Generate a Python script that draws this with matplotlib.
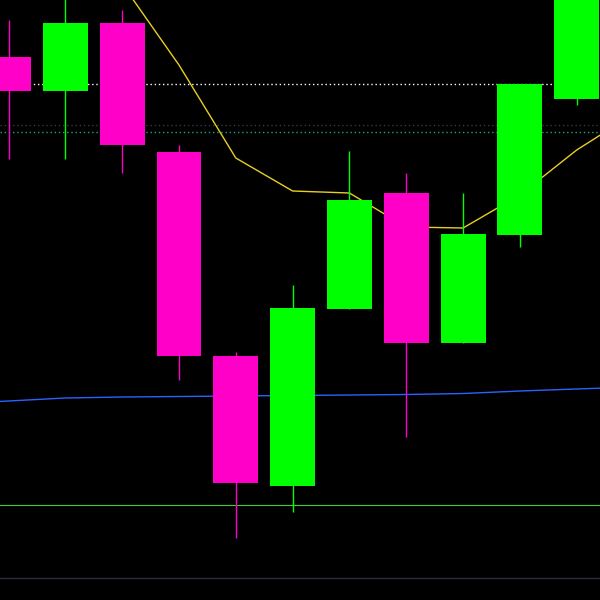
import matplotlib
matplotlib.use("Agg")
import matplotlib.pyplot as plt
import numpy as np

# candle data (price units)
opens = [543, 509, 577, 448, 244, 114, 291, 407, 257, 365, 501]
highs = [580, 605, 590, 455, 248, 315, 449, 427, 407, 516, 640]
lows = [441, 441, 427, 220, 62, 88, 291, 163, 257, 353, 495]
closes = [509, 577, 455, 244, 117, 292, 400, 257, 366, 516, 620]

# moving averages
ma_fast_x = [2, 3, 4, 5, 6, 7, 8, 9, 10, 11]
ma_fast = [616, 535, 442, 409, 407, 373, 372, 405, 450, 486]
ma_slow_x = [-1, 0, 1, 2, 3, 4, 5, 6, 7, 8, 9, 10, 11]
ma_slow = [196, 199, 202, 203, 203.5, 204, 204.5, 205, 205.5, 206.5, 209, 211, 213]

# horizontal levels
level_white = 516
level_grey = 475
level_teal = 468
level_green = 95
level_bottom = 22

up_color = "#00ff00"
down_color = "#ff00c8"

fig = plt.figure(figsize=(6, 6), dpi=100)
fig.patch.set_facecolor("black")
ax = fig.add_axes([0, 0, 1, 1])
ax.set_facecolor("black")

# levels
ax.axhline(level_white, color="white", lw=1, ls=(0, (1, 2)), zorder=1)
ax.axhline(level_grey, color="#3a3a3a", lw=1, ls=(0, (1, 2)), zorder=1)
ax.axhline(level_teal, color="#1fa58f", lw=1, ls=(0, (1, 2)), zorder=1)
ax.axhline(level_green, color="#3ecf3e", lw=0.8, zorder=1)
ax.axhline(level_bottom, color="#2a2e39", lw=1, zorder=1)

# moving averages
ax.plot(ma_slow_x, ma_slow, color="#2962ff", lw=1, zorder=2)
ax.plot(ma_fast_x, ma_fast, color="#e8d020", lw=1, zorder=2)

# candles
x = np.arange(len(opens))
colors = [up_color if c >= o else down_color for o, c in zip(opens, closes)]
ax.vlines(x, lows, highs, colors=colors, lw=1, zorder=3)
bottoms = np.minimum(opens, closes)
heights = np.abs(np.array(closes) - np.array(opens))
ax.bar(x, heights, bottom=bottoms, width=0.79, color=colors, zorder=4)

ax.set_xlim(-0.15, 10.41)
ax.set_ylim(0, 600)
ax.axis("off")

fig.savefig("out.png", dpi=100, facecolor="black")
